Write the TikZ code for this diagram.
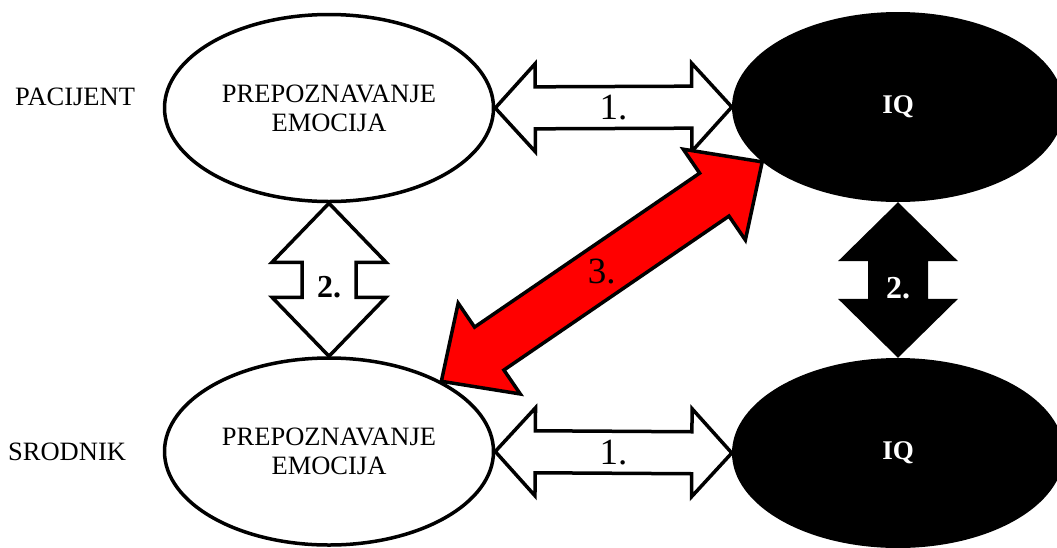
\documentclass[tikz,border=0pt]{standalone}
\usepackage{fontspec}
\setmainfont{Liberation Serif}
\usetikzlibrary{shapes.geometric,calc}
\tikzstyle{every node}=[inner sep=0pt]
\tikzstyle{emo}=[ellipse,draw,line width=3.5pt,fill=white,minimum width=329pt,minimum height=187pt,align=center,font=\fontsize{26.5}{29}\selectfont]
\tikzstyle{iq}=[ellipse,fill=black,text=white,minimum width=332pt,minimum height=190pt,font=\fontsize{27}{28}\selectfont\bfseries]
\tikzstyle{side}=[anchor=west,font=\fontsize{26.5}{29}\selectfont]
\tikzstyle{whitearrow}=[draw=black,fill=white,line width=3.5pt]
\tikzstyle{blackarrow}=[fill=black]
\tikzstyle{redarrow}=[draw=black,fill=red,line width=3.5pt]
\tikzstyle{num}=[font=\fontsize{37}{37}\selectfont]
\tikzstyle{boldnum}=[font=\fontsize{32}{32}\selectfont\bfseries]
\newcommand{\blockarrow}[6]{%
\path[#1] (#2) -- ($(#2)!#6!(#3)!#5!90:(#3)$) -- ($(#2)!#6!(#3)!#4!90:(#3)$) -- ($(#3)!#6!(#2)!#4!-90:(#2)$) -- ($(#3)!#6!(#2)!#5!-90:(#2)$) -- (#3) -- ($(#3)!#6!(#2)!#5!90:(#2)$) -- ($(#3)!#6!(#2)!#4!90:(#2)$) -- ($(#2)!#6!(#3)!#4!-90:(#3)$) -- ($(#2)!#6!(#3)!#5!-90:(#3)$) -- cycle;}

\begin{document}
\begin{tikzpicture}[x=1pt,y=-1pt]
\useasboundingbox (0,0) rectangle (1057,547);
\node[side] (pac) at (15,97) {PACIJENT};
\node[side] (sro) at (8,452) {SRODNIK};
\node[emo] (pe1) at (329,108) {PREPOZNAVANJE\\EMOCIJA};
\node[emo] (pe2) at (329,451.5) {PREPOZNAVANJE\\EMOCIJA};
\node[iq] (iq1) at (898,107) {IQ};
\node[iq] (iq2) at (898,453) {IQ};
\blockarrow{whitearrow}{pe1.east}{iq1.west}{21pt}{44pt}{40pt}
\blockarrow{whitearrow}{pe2.east}{iq2.west}{21pt}{44pt}{40pt}
\blockarrow{whitearrow}{pe1.south}{pe2.north}{27pt}{57pt}{59pt}
\blockarrow{blackarrow}{iq1.south}{iq2.north}{30pt}{60pt}{59pt}
\blockarrow{redarrow}{pe2.32}{iq1.202}{26pt}{55pt}{58pt}
\node[num] (n1a) at ($(pe1.east)!0.5!(iq1.west)$) {1.};
\node[num] (n1b) at ($(pe2.east)!0.5!(iq2.west)$) {1.};
\node[boldnum] (n2a) at ($(pe1.south)!0.55!(pe2.north)$) {2.};
\node[boldnum,text=white] (n2b) at ($(iq1.south)!0.55!(iq2.north)$) {2.};
\node[num] (n3) at ($(pe2.32)!0.5!(iq1.202)$) {3.};
\end{tikzpicture}
\end{document}
